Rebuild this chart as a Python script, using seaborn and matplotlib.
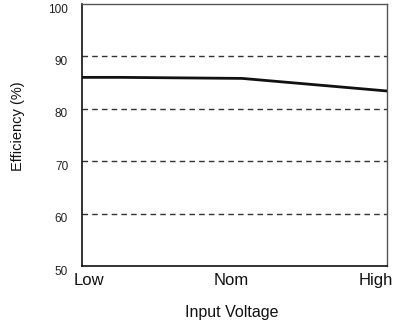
import matplotlib
matplotlib.use("Agg")
import matplotlib.pyplot as plt
import matplotlib.transforms as mtrans
import seaborn as sns
import pandas as pd

# Data
categories = ["Low", "Nom", "High"]
x_pos = [0.0, 0.25, 1.05, 2.0]
efficiency = [86.0, 86.0, 85.8, 83.4]
y_ticks = [50, 60, 70, 80, 90, 100]
grid_levels = [60, 70, 80, 90]

sns.set_theme(style="white")
plt.rcParams["font.family"] = ["Liberation Sans", "DejaVu Sans"]

df = pd.DataFrame({"x": x_pos, "eff": efficiency})

fig = plt.figure(figsize=(3.94, 3.26), dpi=100)
ax = fig.add_axes([82/394, 1 - 266/326, (387-82)/394, (266-4)/326])

for g in grid_levels:
    ax.axhline(g, color="#333333", lw=1.0, ls=(0, (4, 3)), zorder=1)

sns.lineplot(data=df, x="x", y="eff", ax=ax, color="#111111", lw=2.0, zorder=3)

ax.set_xlim(0, 2)
ax.set_ylim(50, 100)
ax.set_yticks(y_ticks)
ax.set_yticklabels([str(v) for v in y_ticks], fontsize=8.5, color="#222222")
ax.set_xticks([0, 1, 2])
ax.set_xticklabels(categories, fontsize=12, color="#111111")
ax.tick_params(axis="both", length=0)
ax.tick_params(axis="x", pad=5)
ax.tick_params(axis="y", pad=10)

# shift y tick labels slightly downward as in reference
for lab in ax.get_yticklabels():
    lab.set_transform(lab.get_transform() + mtrans.ScaledTranslation(0, -3/72, fig.dpi_scale_trans))
xl = ax.get_xticklabels()
xl[0].set_transform(xl[0].get_transform() + mtrans.ScaledTranslation(7/100, 0, fig.dpi_scale_trans))
xl[1].set_transform(xl[1].get_transform() + mtrans.ScaledTranslation(-3/100, 0, fig.dpi_scale_trans))
xl[2].set_transform(xl[2].get_transform() + mtrans.ScaledTranslation(-11/100, 0, fig.dpi_scale_trans))

ax.set_xlabel("Input Voltage", fontsize=11.5, color="#111111")
ax.set_ylabel("Efficiency (%)", fontsize=10.5, color="#111111")
ax.xaxis.set_label_coords((232 - 82) / 305, -(312 - 266) / 262)
ax.yaxis.set_label_coords((18 - 82) / 305, (266 - 126) / 262)
ax.xaxis.label.set_va("center")
ax.yaxis.label.set_va("center")

for s in ["left", "bottom"]:
    ax.spines[s].set_color("#111111")
    ax.spines[s].set_linewidth(1.2)
for s in ["top", "right"]:
    ax.spines[s].set_color("#555555")
    ax.spines[s].set_linewidth(1.0)

fig.savefig("out.png", dpi=100)
